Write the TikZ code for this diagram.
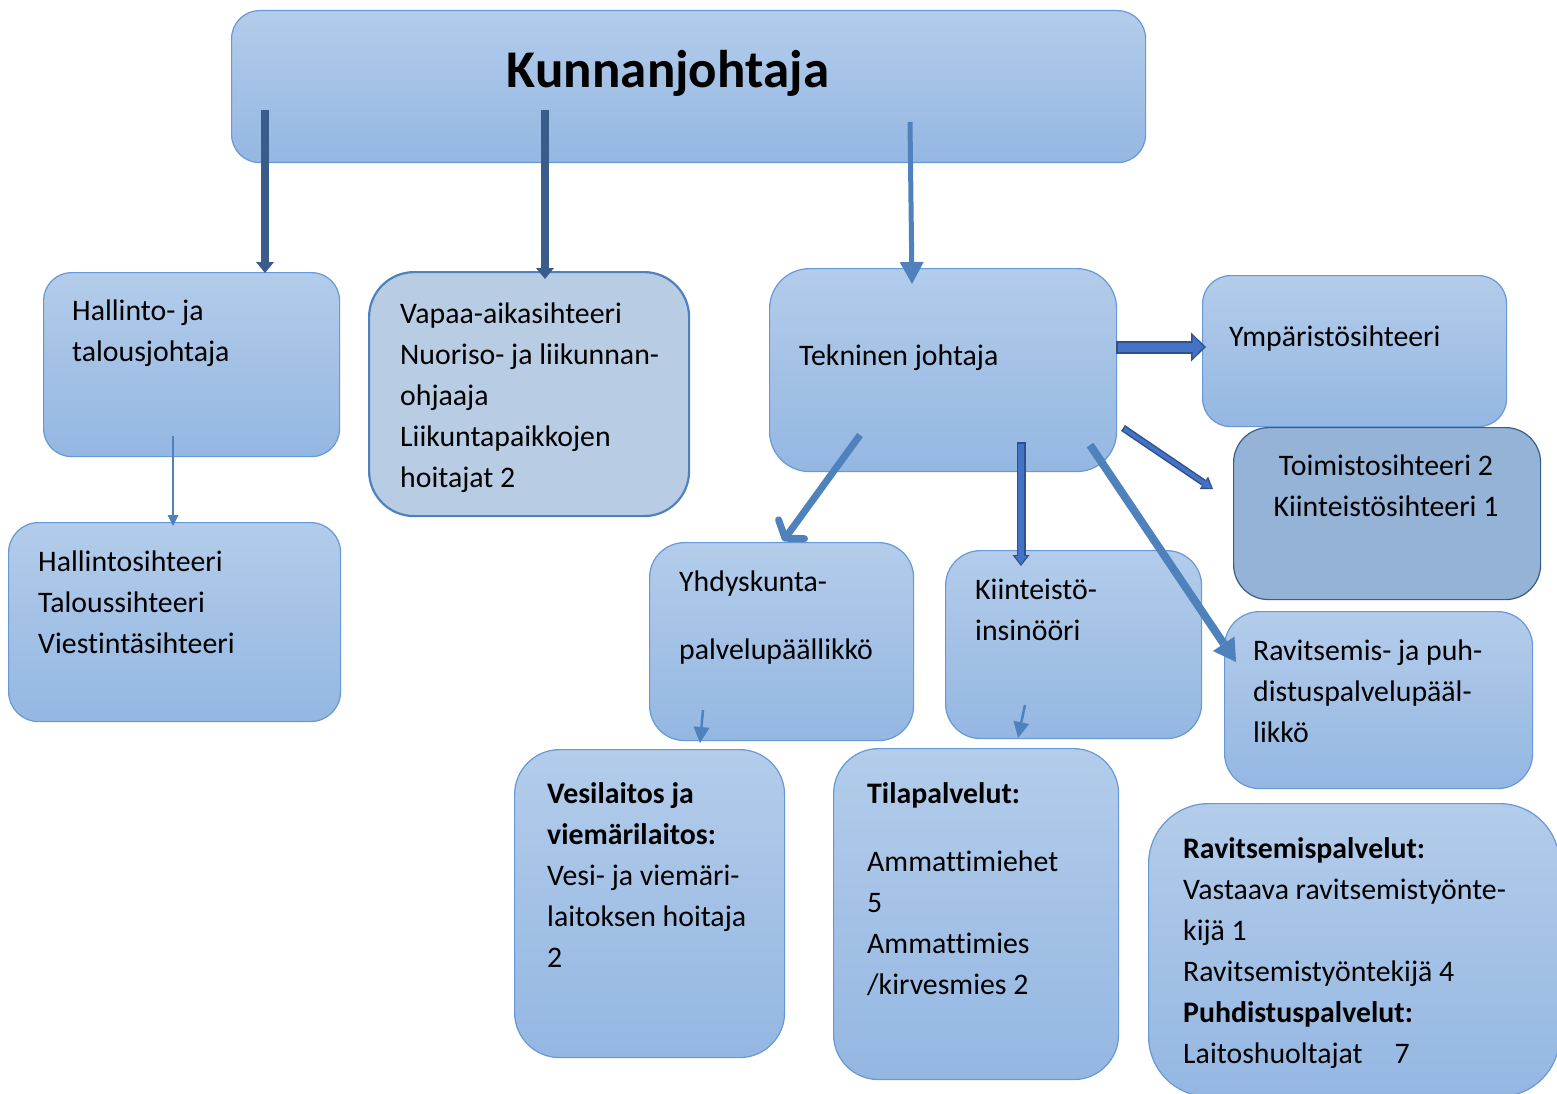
\documentclass[tikz,border=0pt]{standalone}
\usepackage{fontspec}
\setmainfont{Carlito}[Ligatures=CommonOff]
\usetikzlibrary{arrows.meta}

\definecolor{boxtop}{RGB}{179,204,234}
\definecolor{boxbot}{RGB}{148,183,226}
\definecolor{boxline}{RGB}{102,153,214}
\definecolor{darkarrow}{RGB}{58,92,138}
\definecolor{midarrow}{RGB}{79,129,189}
\definecolor{blockfill}{RGB}{68,114,196}
\definecolor{blockline}{RGB}{47,82,143}
\definecolor{greybox}{RGB}{184,204,228}
\definecolor{greyline}{RGB}{79,129,189}
\definecolor{deepbox}{RGB}{149,179,215}
\definecolor{deepline}{RGB}{56,93,138}

\tikzset{
  box/.style={draw=boxline, line width=1.2pt, top color=boxtop, bottom color=boxbot,
    rounded corners=#1, anchor=north west, inner sep=0pt},
  box/.default=28pt,
  txt/.style={anchor=north west, align=left, inner sep=0pt, font=\fontsize{29.8}{41}\selectfont}
}

\begin{document}
\begin{tikzpicture}[x=1pt,y=-1pt]
    \useasboundingbox (0,0) rectangle (1557,1094);
    \clip (0,0) rectangle (1557,1094);
    % Draw boxes
    \node[box, minimum width=914, minimum height=152] (kj) at (231,10) {};
    \node[box, minimum width=296, minimum height=184] (halto) at (43,272) {};
    \node[box=45pt, draw=greyline, line width=2.2pt, top color=greybox, bottom color=greybox,
        minimum width=320, minimum height=244] (vapaa) at (368,271) {};
    \node[box=40pt, minimum width=347, minimum height=203] (tekn) at (769,268) {};
    \node[box, minimum width=304, minimum height=151] (ymp) at (1202,275) {};
    \node[box=35pt, draw=deepline, top color=deepbox, bottom color=deepbox,
        minimum width=307, minimum height=172] (toim) at (1233,427) {};
    \node[box=30pt, minimum width=332, minimum height=199] (hsiht) at (8,522) {};
    \node[box=35pt, minimum width=264, minimum height=198] (yhd) at (649,542) {};
    \node[box=35pt, minimum width=256, minimum height=188] (kiint) at (945,550) {};
    \node[box=35pt, minimum width=308, minimum height=177] (ravp) at (1224,611) {};
    \node[box=45pt, minimum width=270, minimum height=308] (vesi) at (514,749) {};
    \node[box=45pt, minimum width=285, minimum height=331] (tila) at (833,748) {};
    \node[box=60pt, minimum width=411, minimum height=293] (ravs) at (1148,803) {};

    % Texts
    \node[font=\fontsize{53}{60}\selectfont\bfseries] (kjtxt) at (668,73) {Kunnanjohtaja};
    \node[txt] (haltotxt) at (72,300) {Hallinto- ja\\talousjohtaja};
    \node[txt] (vapaatxt) at (400,303) {Vapaa-aikasihteeri\\Nuoriso- ja liikunnan-\\ohjaaja\\Liikuntapaikkojen\\hoitajat 2};
    \node[txt] (tekntxt) at (799,345) {Tekninen johtaja};
    \node[txt] (ymptxt) at (1229,326) {Ympäristösihteeri};
    \node[txt, anchor=north, align=center] (toimtxt) at (1386,455) {Toimistosihteeri 2\\Kiinteistösihteeri 1};
    \node[txt] (hsihttxt) at (38,551) {Hallintosihteeri\\Taloussihteeri\\Viestintäsihteeri};
    \node[txt] (yhdtxt) at (679,571) {Yhdyskunta-\\[27pt]palvelupäällikkö};
    \node[txt] (kiinttxt) at (975,579) {Kiinteistö-\\insinööri};
    \node[txt] (ravptxt) at (1253,640) {Ravitsemis- ja puh-\\distuspalvelupääl-\\likkö};
    \node[txt] (vesitxt) at (547,782) {\textbf{Vesilaitos ja}\\\textbf{viemärilaitos:}\\Vesi- ja viemäri-\\laitoksen hoitaja\\2};
    \node[txt] (tilatxt) at (867,782) {\textbf{Tilapalvelut:}\\[27pt]Ammattimiehet\\5\\Ammattimies\\/kirvesmies 2};
    \node[txt] (ravstxt) at (1183,837) {\textbf{Ravitsemispalvelut:}\\Vastaava ravitsemistyönte-\\kijä 1\\Ravitsemistyöntekijä 4\\\textbf{Puhdistuspalvelut:}\\Laitoshuoltajat\hspace{32pt}7};

    % Arrow ends
    \coordinate (a1s) at (265,110);  \coordinate (a1e) at (265,273);
    \coordinate (a2s) at (545,110);  \coordinate (a2e) at (545,279);
    \coordinate (a3s) at (910,122);  \coordinate (a3e) at (912,284);
    \coordinate (a4s) at (1116,347); \coordinate (a4e) at (1206,347);
    \coordinate (a5s) at (1123,428); \coordinate (a5e) at (1213,489);
    \coordinate (a6s) at (860,435);  \coordinate (a6e) at (783,541);
    \coordinate (a7s) at (1021,442); \coordinate (a7e) at (1021,566);
    \coordinate (a8s) at (1090,445); \coordinate (a8e) at (1236,662);
    \coordinate (a9s) at (173,436);  \coordinate (a9e) at (173,526);
    \coordinate (a10s) at (703,710); \coordinate (a10e) at (700,743);
    \coordinate (a11s) at (1025,705); \coordinate (a11e) at (1018,738);

    % Draw arrows
    \draw [darkarrow, line width=8pt, -{Triangle[length=11pt,width=18pt,line width=0pt]}] (a1s) -- (a1e);
    \draw [darkarrow, line width=8pt, -{Triangle[length=11pt,width=18pt,line width=0pt]}] (a2s) -- (a2e);
    \draw [midarrow, line width=5pt, -{Triangle[length=22pt,width=24pt,line width=0pt]}] (a3s) -- (a3e);
    \draw [blockline, line width=13pt, -{Triangle[length=15pt,width=29pt,line width=0pt]}] (a4s) -- (a4e);
    \draw [blockfill, line width=9pt, shorten <=2pt, shorten >=2.5pt, -{Triangle[length=11pt,width=23pt,line width=0pt]}] (a4s) -- (a4e);
    \draw [blockline, line width=7pt, -{Triangle[length=11pt,width=15pt,line width=0pt]}] (a5s) -- (a5e);
    \draw [blockfill, line width=4pt, shorten <=1.5pt, shorten >=2pt, -{Triangle[length=8pt,width=10pt,line width=0pt]}] (a5s) -- (a5e);
    \draw [blockline, line width=9pt, -{Triangle[length=11pt,width=17pt,line width=0pt]}] (a7s) -- (a7e);
    \draw [blockfill, line width=5.5pt, shorten <=1.5pt, shorten >=2pt, -{Triangle[length=8pt,width=12pt,line width=0pt]}] (a7s) -- (a7e);
    \draw [midarrow, line width=7pt, -{Straight Barb[length=11pt,width=32pt,round]}] (a6s) -- (a6e);
    \draw [midarrow, line width=8pt, -{Triangle[length=22pt,width=26pt,line width=0pt]}] (a8s) -- (a8e);
    \draw [midarrow, line width=1.5pt, -{Triangle[length=11pt,width=11pt,line width=0pt]}] (a9s) -- (a9e);
    \draw [midarrow, line width=2.5pt, -{Triangle[length=16pt,width=16pt,line width=0pt]}] (a10s) -- (a10e);
    \draw [midarrow, line width=2.5pt, -{Triangle[length=16pt,width=16pt,line width=0pt]}] (a11s) -- (a11e);
\end{tikzpicture}
\end{document}
